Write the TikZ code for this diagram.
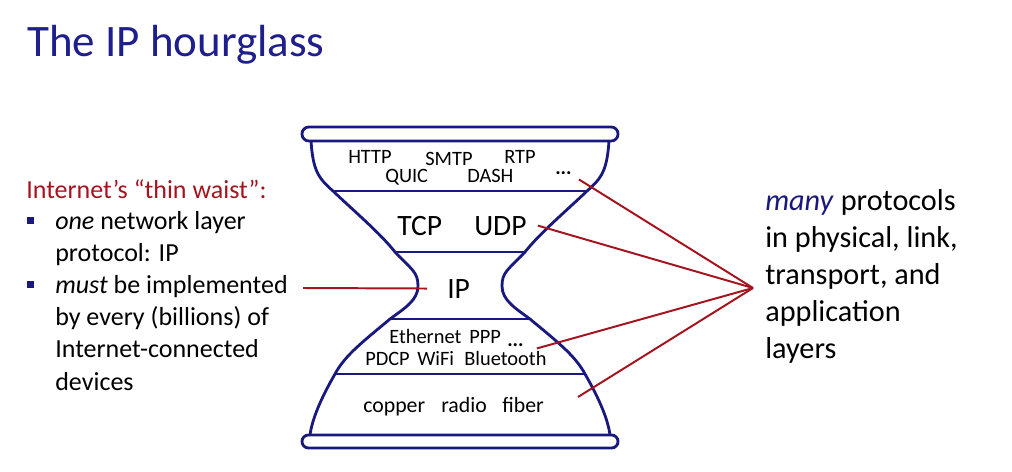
\documentclass[tikz,border=0pt]{standalone}
\usepackage{fontspec}
\setmainfont{Carlito}
\definecolor{glassblue}{RGB}{25,25,125}
\definecolor{titleblue}{RGB}{30,30,140}
\definecolor{waistred}{RGB}{165,20,30}
\newcommand{\sqbullet}{\llap{\raisebox{4pt}{\textcolor{glassblue}{\rule{5pt}{5pt}}}\hspace{15pt}}}

\begin{document}
\begin{tikzpicture}[x = 0.025cm, y = -0.025cm,
    glass/.style = {draw = glassblue, line width = 2pt},
    wire/.style = {draw = waistred, line width = 1.4pt},
    lbl/.style = {anchor = base west, inner sep = 0pt},
    small/.style = {lbl, font = \fontsize{14.5}{17}\selectfont},
    phys/.style = {lbl, font = \fontsize{15.5}{18}\selectfont},
    big/.style = {lbl, font = \fontsize{21}{25}\selectfont}]
    \useasboundingbox (0,0) rectangle (1012,472);

    % title and side texts (multi-line nodes sit on their last baseline)
    \node[lbl, font = \fontsize{32}{37}\selectfont, text = titleblue] (title) at (27,57) {The IP hourglass};
    \node[lbl, font = \fontsize{18.5}{22.8}\selectfont, text = waistred] (waisthead) at (26,199) {Internet’s “thin waist”:};
    \node[lbl, font = \fontsize{18.5}{22.8}\selectfont, align = left] (waistpts) at (55,390)
        {\sqbullet\emph{one} network layer\\protocol: IP\\\sqbullet\emph{must} be implemented\\by every (billions) of\\Internet-connected\\devices};
    \node[lbl, font = \fontsize{21.5}{26.3}\selectfont, align = left] (many) at (765,358)
        {\textcolor{glassblue}{\emph{many}} protocols\\in physical, link,\\transport, and\\application\\layers};

    % hourglass
    \draw[glass, rounded corners = 0.17cm] (302,127) rectangle (618,141);
    \draw[glass, rounded corners = 0.16cm] (302,435) rectangle (618,448);
    \begin{scope}[shift = {(460,0)}]
        \foreach \s in {1,-1}
            \draw[glass, xscale = \s] (-149,141) .. controls (-147,170) and (-142,178) .. (-127,191)
                .. controls (-105,212) and (-80,233) .. (-65,252)
                .. controls (-48,270) and (-42,272) .. (-42,286)
                .. controls (-42,300) and (-55,308) .. (-70,319)
                .. controls (-95,340) and (-115,355) .. (-125,374)
                .. controls (-140,400) and (-148,420) .. (-150,435);
        \draw[glass] (-127,191) -- (127,191);
        \draw[glass] (-65,252) -- (65,252);
        \draw[glass] (-70,319) -- (70,319);
        \draw[glass] (-125,374) -- (125,374);
    \end{scope}

    % layers
    \node[small] (http) at (348,164) {HTTP};
    \node[small] (smtp) at (425,166) {SMTP};
    \node[small] (rtp) at (504,164) {RTP};
    \node[small] (quic) at (385,183) {QUIC};
    \node[small] (dash) at (467,183) {DASH};
    \node[small] (appdots) at (555,175) {\textbf{...}};
    \node[big] (tcp) at (397,235) {TCP};
    \node[big] (udp) at (474,235) {UDP};
    \node[big] (ip) at (447,298) {IP};
    \node[small] (ethernet) at (389,343) {Ethernet};
    \node[small] (ppp) at (469,343) {PPP};
    \node[small] (linkdots) at (507,346) {\textbf{...}};
    \node[small] (pdcp) at (365,365) {PDCP};
    \node[small] (wifi) at (417,365) {WiFi};
    \node[small] (bluetooth) at (464,365) {Bluetooth};
    \node[phys] (copper) at (363,412) {copper};
    \node[phys] (radio) at (441,412) {radio};
    \node[phys] (fiber) at (502,412) {fiber};

    % red pointers
    \coordinate (hub) at (753,288);
    \coordinate (fibertip) at (578,397);
    \coordinate (waistfrom) at (303,288);
    \draw[wire] ([shift = {(7,4)}]appdots.south east) -- (hub);
    \draw[wire] ([shift = {(11,0)}]udp.east) -- (hub);
    \draw[wire] ([shift = {(13,2)}]linkdots.south east) -- (hub);
    \draw[wire] (fibertip) -- (hub);
    \draw[wire] (waistfrom) -- ([shift = {(-20,0)}]ip.west);
\end{tikzpicture}
\end{document}
